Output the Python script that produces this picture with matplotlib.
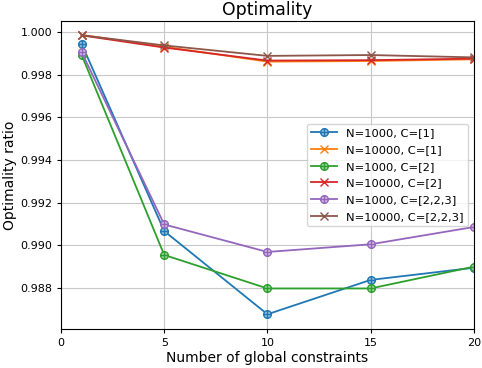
import numpy as np
import matplotlib
matplotlib.use("Agg")
import matplotlib.pyplot as plt
from matplotlib.path import Path
from matplotlib.colors import to_rgb

# Nombre de contraintes globales
constraints = [1, 5, 10, 15, 20]

# Ratios d'optimalité
n1000_c1 = [0.99944, 0.99067, 0.98677, 0.98838, 0.98895]
n10000_c1 = [0.99986, 0.99931, 0.99861, 0.99864, 0.99872]
n1000_c2 = [0.99892, 0.98955, 0.98798, 0.98798, 0.98900]
n10000_c2 = [0.99984, 0.99927, 0.99866, 0.99868, 0.99875]
n1000_c223 = [0.99905, 0.99098, 0.98969, 0.99005, 0.99086]
n10000_c223 = [0.99985, 0.99937, 0.99888, 0.99892, 0.99881]

labels = ["N=1000, C=[1]", "N=10000, C=[1]", "N=1000, C=[2]",
          "N=10000, C=[2]", "N=1000, C=[2,2,3]", "N=10000, C=[2,2,3]"]

# marqueur cercle avec croix
circle = Path.unit_circle()
plus = Path([(-1, 0), (1, 0), (0, -1), (0, 1)],
            [Path.MOVETO, Path.LINETO, Path.MOVETO, Path.LINETO])
oplus = Path.make_compound_path(circle, plus)

plt.rcParams['axes.linewidth'] = 0.8
plt.rcParams['grid.linewidth'] = 0.8
plt.rcParams['xtick.major.width'] = 0.8
plt.rcParams['ytick.major.width'] = 0.8
plt.rcParams['xtick.major.size'] = 3
plt.rcParams['ytick.major.size'] = 3

fig, ax = plt.subplots(figsize=(4.82, 3.68), dpi=100)
fig.subplots_adjust(left=0.1266, right=0.983, top=0.943, bottom=0.106)

series = [n1000_c1, n10000_c1, n1000_c2, n10000_c2, n1000_c223, n10000_c223]
for i, (vals, lab) in enumerate(zip(series, labels)):
    col = 'C%d' % i
    if i % 2 == 0:
        light = tuple(0.45 * c + 0.55 for c in to_rgb(col))
        ax.plot(constraints, vals, color=col, lw=1.3, marker=oplus,
                markersize=5.5, mfc=light, mec=col, mew=1.0, label=lab)
    else:
        ax.plot(constraints, vals, color=col, lw=1.3, marker='x',
                markersize=5.5, mew=1.0, label=lab)

ax.set_xlim(0, 20)
ax.set_ylim(0.98608, 1.000516)
ax.set_xticks([0, 5, 10, 15, 20])
ax.set_yticks(np.arange(0.988, 1.0001, 0.002))
ax.tick_params(labelsize=8)
ax.grid(True, color='#c8c8c8')
ax.set_xlabel('Number of global constraints', fontsize=10, labelpad=2.5)
ax.set_ylabel('Optimality ratio', fontsize=10, labelpad=2)
ax.set_title('Optimality', fontsize=12.4, pad=4)
ax.legend(loc='center right', fontsize=8.25, handlelength=2.2,
          labelspacing=0.58, borderpad=0.4)

plt.savefig('out.png', dpi=100)
